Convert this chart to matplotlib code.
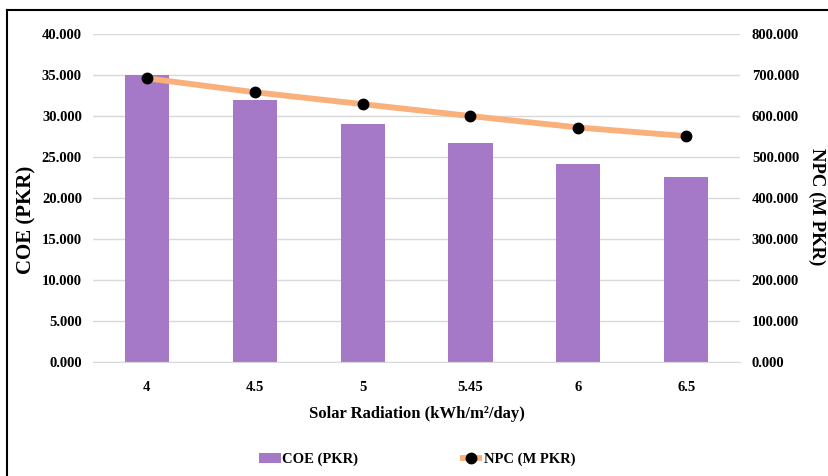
import numpy as np
import matplotlib.pyplot as plt
from matplotlib.lines import Line2D
from matplotlib.ticker import FormatStrFormatter

# data
radiation = ['4', '4.5', '5', '5.45', '6', '6.5']
coe = [35.0, 32.0, 29.0, 26.7, 24.2, 22.6]
npc = [692, 658, 629, 600, 572, 551]

plt.rcParams['font.family'] = ['Liberation Serif', 'DejaVu Serif']
plt.rcParams['font.weight'] = 'bold'

fig = plt.figure(figsize=(8.29, 4.76), dpi=100)
ax = fig.add_axes([0.1122, 0.2395, 0.7805, 0.689])
ax2 = ax.twinx()

x = np.arange(len(radiation))
ax.bar(x, coe, width=0.41, color='#A678C8', label='COE (PKR)', zorder=2)
ax2.plot(x, npc, color='#F9B07A', lw=4.2, marker='o', markersize=7.5,
         markerfacecolor='black', markeredgecolor='black', label='NPC (M PKR)',
         solid_capstyle='butt', zorder=3)

ax.set_xlim(-0.5, len(radiation) - 0.5)
ax.set_ylim(0, 40)
ax2.set_ylim(0, 800)
ax.set_yticks(np.arange(0, 41, 5))
ax2.set_yticks(np.arange(0, 801, 100))
ax.yaxis.set_major_formatter(FormatStrFormatter('%.3f'))
ax2.yaxis.set_major_formatter(FormatStrFormatter('%.3f'))
ax.set_xticks(x)
ax.set_xticklabels(radiation)

ax.grid(axis='y', color='#D9D9D9', lw=1, zorder=0)
ax.set_axisbelow(True)
for a in (ax, ax2):
    for s in a.spines.values():
        s.set_visible(False)
    a.tick_params(length=0, labelsize=10.5)
ax.spines['bottom'].set_visible(True)
ax.spines['bottom'].set_color('#D9D9D9')
ax.tick_params(axis='y', pad=8)
ax2.tick_params(axis='y', pad=8.5)
ax.tick_params(axis='x', pad=14)

ax.set_xlabel('Solar Radiation (kWh/m²/day)', fontsize=12, fontweight='bold', labelpad=8)
# axis titles sit a bit off-centre in the original, so place them on the figure
fig.text(26 / 829, 1 - 220 / 476, 'COE (PKR)', rotation=90, fontsize=15,
         fontweight='bold', ha='center', va='center')
fig.text(817 / 829, 1 - 207 / 476, 'NPC (M PKR)', rotation=-90, fontsize=13.5,
         fontweight='bold', ha='center', va='center')

h1, l1 = ax.get_legend_handles_labels()
h2, l2 = ax2.get_legend_handles_labels()
fig.legend(h1 + h2, l1 + l2, loc='center', bbox_to_anchor=(0.503, 0.035), ncol=2,
           frameon=False, fontsize=10.5, columnspacing=7.0, handlelength=1.5,
           handletextpad=0.1)

# outer frame (left and top only visible)
fig.add_artist(Line2D([7 / 829, 7 / 829], [0, 1 - 10 / 476], color='black', lw=1.5,
                      transform=fig.transFigure))
fig.add_artist(Line2D([7 / 829, 1], [1 - 10 / 476, 1 - 10 / 476], color='black', lw=1.5,
                      transform=fig.transFigure))

fig.savefig('out.png', dpi=100)
